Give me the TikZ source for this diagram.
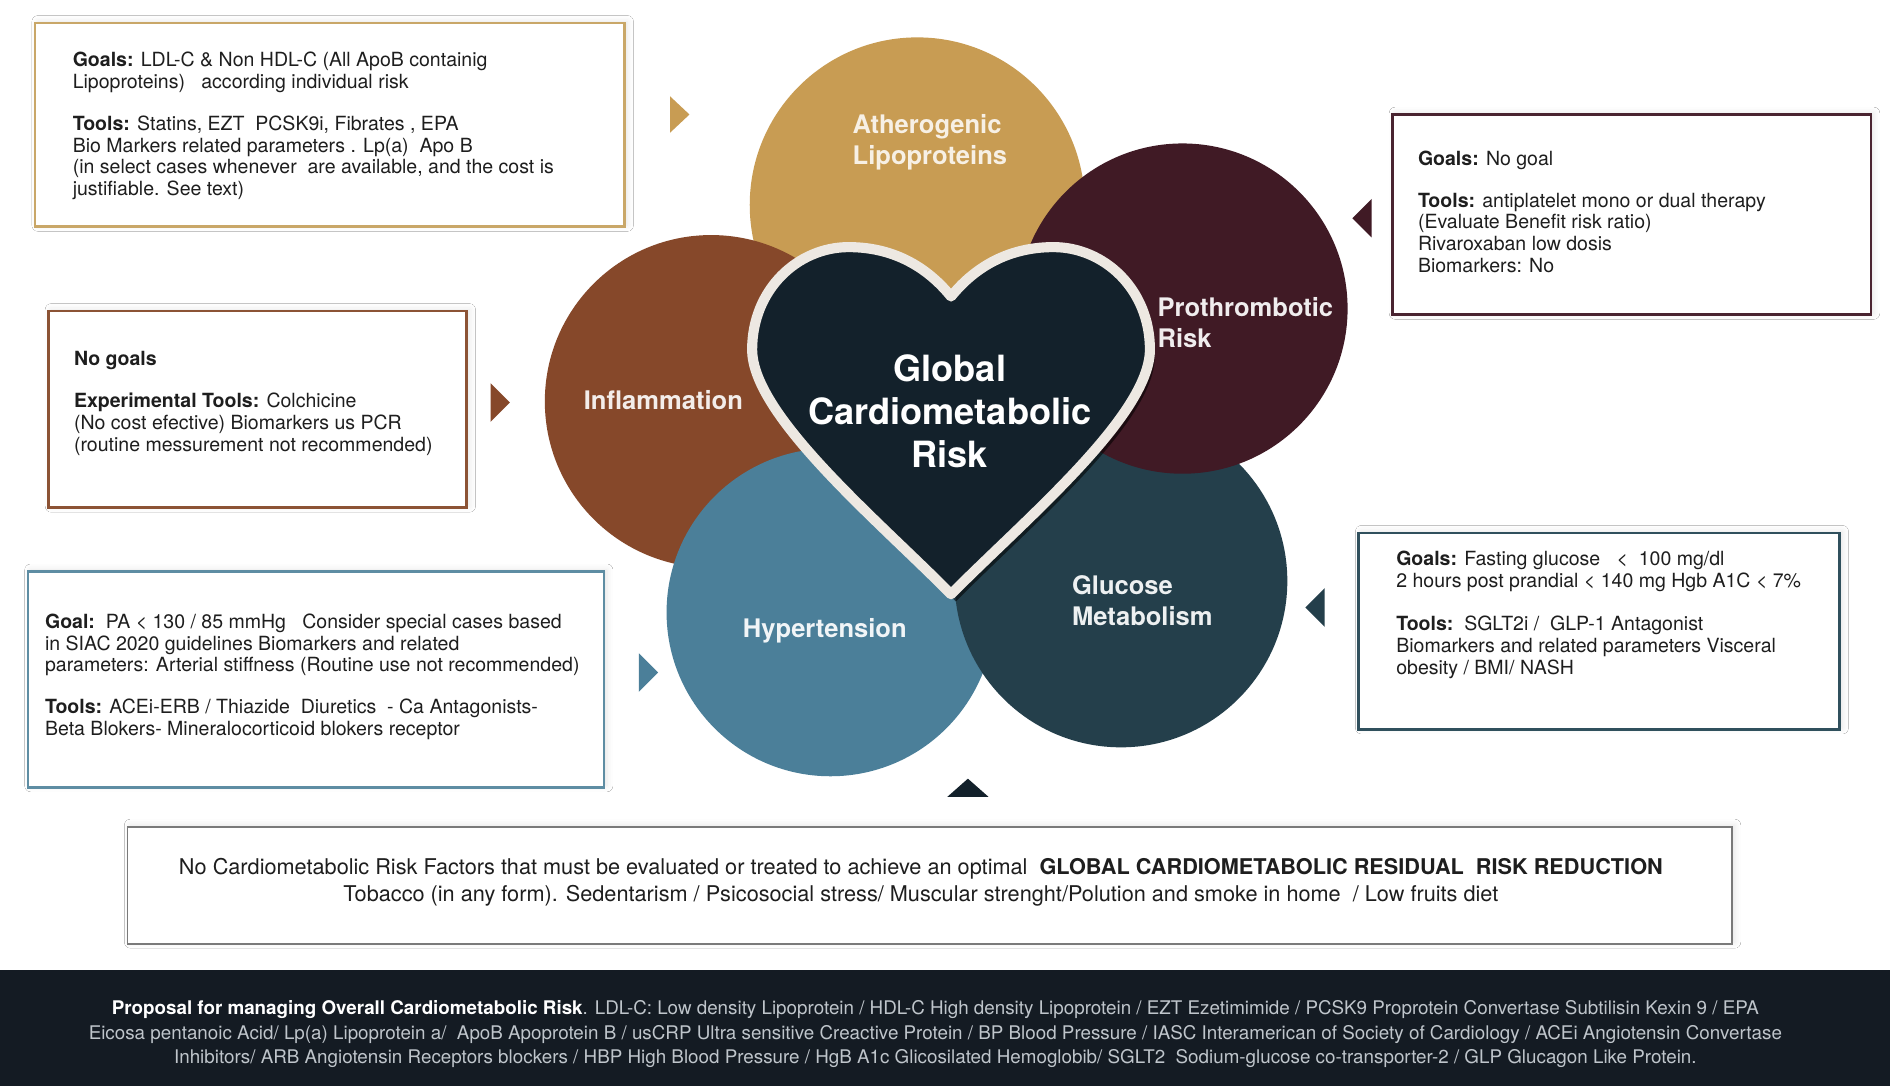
\documentclass[tikz,border=0pt]{standalone}
\usepackage{fontspec}
\setmainfont{TeX Gyre Heros}
\usetikzlibrary{shadows.blur}
\definecolor{cGold}{HTML}{C89C53}
\definecolor{cGoldB}{HTML}{C9A768}
\definecolor{cMaroon}{HTML}{401A25}
\definecolor{cMaroonB}{HTML}{4A2431}
\definecolor{cBrown}{HTML}{86482A}
\definecolor{cBrownB}{HTML}{8C5335}
\definecolor{cBlue}{HTML}{4B7F99}
\definecolor{cBlueB}{HTML}{5E8DA3}
\definecolor{cTeal}{HTML}{243F4B}
\definecolor{cTealB}{HTML}{30505D}
\definecolor{cHeart}{HTML}{13212B}
\definecolor{cHeartB}{HTML}{EDE8E2}
\definecolor{cFoot}{HTML}{141B23}
\definecolor{cFootTxt}{HTML}{BFC5CB}
\definecolor{cTxt}{HTML}{1E1E1E}
\definecolor{cGray}{HTML}{7A7A7A}
\begin{document}
\begin{tikzpicture}[x=0.5pt,y=-0.5pt,
  infobox/.style={draw=#1, line width=1.1pt, fill=white, anchor=north west, inner sep=0pt,
    blur shadow={shadow xshift=1.2pt, shadow yshift=0.6pt, shadow opacity=10, shadow blur radius=2.5pt}},
  infotxt/.style={anchor=west, align=left, inner sep=0pt, text=cTxt, font=\fontsize{8.1}{9}\selectfont},
  riskcirc/.style={circle, fill=#1, inner sep=0pt},
  circlabel/.style={anchor=west, align=left, inner sep=0pt, font=\fontsize{10.6}{13}\selectfont\bfseries},
  pointer/.style={fill=#1}
]
\useasboundingbox (0,0) rectangle (1568,901);
\fill[white] (0,0) rectangle (1568,901);

% ---- circles ----
\node[riskcirc=cGold, minimum size=139pt] (ather) at (761,170) {};
\node[riskcirc=cBrown, minimum size=138pt] (infl) at (590,333) {};
\node[riskcirc=cBlue, minimum size=136pt] (hyp) at (689,508) {};
\node[riskcirc=cTeal, minimum size=138pt] (gluc) at (930,482) {};
\node[riskcirc=cMaroon, minimum size=137pt] (proth) at (981,256) {};

% ---- heart ----
\fill[black, opacity=0.55] ([shift={(4,6)}]789,493) .. controls ([shift={(4,6)}]730,433) and ([shift={(4,6)}]624,345) .. ([shift={(4,6)}]624,290)
  .. controls ([shift={(4,6)}]624,240) and ([shift={(4,6)}]662,205) .. ([shift={(4,6)}]704,205)
  .. controls ([shift={(4,6)}]745,205) and ([shift={(4,6)}]772,225) .. ([shift={(4,6)}]789,246)
  .. controls ([shift={(4,6)}]806,225) and ([shift={(4,6)}]833,205) .. ([shift={(4,6)}]874,205)
  .. controls ([shift={(4,6)}]916,205) and ([shift={(4,6)}]954,240) .. ([shift={(4,6)}]954,290)
  .. controls ([shift={(4,6)}]954,345) and ([shift={(4,6)}]848,433) .. ([shift={(4,6)}]789,493) -- cycle;
\filldraw[fill=cHeart, draw=cHeartB, line width=4.2pt, line join=round]
  (789,493) .. controls (730,433) and (624,345) .. (624,290)
  .. controls (624,240) and (662,205) .. (704,205)
  .. controls (745,205) and (772,225) .. (789,246)
  .. controls (806,225) and (833,205) .. (874,205)
  .. controls (916,205) and (954,240) .. (954,290)
  .. controls (954,345) and (848,433) .. (789,493) -- cycle;
\node[align=center, inner sep=0pt, text=white, font=\fontsize{15}{17.75}\selectfont\bfseries] (heart) at (788,341)
  {Global\\Cardiometabolic\\Risk};

% ---- circle labels ----
\node[circlabel, text={cGold!15!white}] (lather) at (707,118) {Atherogenic\\Lipoproteins};
\node[circlabel, text={cMaroon!8!white}] (lproth) at (960,267.5) {Prothrombotic\\Risk};
\node[circlabel, text={cBrown!10!white}] (linfl) at (484,332) {Inflammation};
\node[circlabel, text={cBlue!8!white}] (lhyp) at (616,523) {Hypertension};
\node[circlabel, text={cTeal!8!white}] (lgluc) at (889,498.5) {Glucose\\Metabolism};

% ---- pointers ----
\fill[pointer=cGold] (556,80) -- (556,110) -- (572,95) -- cycle;
\fill[pointer=cMaroon] (1138,165) -- (1138,197) -- (1122,181) -- cycle;
\fill[pointer=cBrown] (407,318) -- (407,350) -- (423,334) -- cycle;
\fill[pointer=cBlue] (530,542) -- (530,574) -- (546,558) -- cycle;
\fill[pointer=cTeal] (1099,488) -- (1099,520) -- (1083,504) -- cycle;
\fill[pointer=cHeart] (786,661) -- (820,661) -- (803,646) -- cycle;

% ---- info boxes ----
\node[infobox=cGoldB, minimum width=244.5pt, minimum height=84.5pt] (b1) at (28,18) {};
\node[infotxt] (t1) at (60,104.5) {\textbf{Goals:} LDL-C \& Non HDL-C (All ApoB containig\\
Lipoproteins)\ \ \ according individual risk\\[8.5pt]
\textbf{Tools:} Statins, EZT\ \ PCSK9i, Fibrates , EPA\\
Bio Markers related parameters . Lp(a)\ \ Apo B\\
(in select cases whenever\ \ are available, and the cost is\\
justifiable. See text)};

\node[infobox=cMaroonB, minimum width=198.5pt, minimum height=83pt] (b2) at (1154,94) {};
\node[infotxt] (t2) at (1176,175.5) {\textbf{Goals:} No goal\\[8.5pt]
\textbf{Tools:} antiplatelet mono or dual therapy\\
(Evaluate Benefit risk ratio)\\
Rivaroxaban low dosis\\
Biomarkers: No};

\node[infobox=cBrownB, minimum width=173.5pt, minimum height=81.5pt] (b3) at (39,257) {};
\node[infotxt] (t3) at (61,334.5) {\textbf{No goals}\\[8.5pt]
\textbf{Experimental Tools:} Colchicine\\
(No cost efective) Biomarkers us PCR\\
(routine messurement not recommended)};

\node[infobox=cBlueB, minimum width=239pt, minimum height=89.5pt] (b4) at (22,473) {};
\node[infotxt] (t4) at (37,561.5) {\textbf{Goal:}\ \ PA < 130 / 85 mmHg\ \ \ Consider special cases based\\
in SIAC 2020 guidelines Biomarkers and related\\
parameters: Arterial stiffness (Routine use not recommended)\\[8.5pt]
\textbf{Tools:} ACEi-ERB / Thiazide\ \ Diuretics\ \ - Ca Antagonists-\\
Beta Blokers- Mineralocorticoid blokers receptor};

\node[infobox=cTealB, minimum width=199.5pt, minimum height=81.5pt] (b5) at (1126,441) {};
\node[infotxt] (t5) at (1158,510) {\textbf{Goals:} Fasting glucose\ \ \ <\ \ 100 mg/dl\\
2 hours post prandial < 140 mg Hgb A1C < 7\%\\[9pt]
\textbf{Tools:}\ \ SGLT2i /\ \ GLP-1 Antagonist\\
Biomarkers and related parameters Visceral\\
obesity / BMI/ NASH};

% ---- bottom box ----
\node[infobox=cGray, line width=0.8pt, minimum width=665.5pt, minimum height=48.5pt] (b6) at (105,685) {};
\node[align=center, inner sep=0pt, text=cTxt, font=\fontsize{9}{11}\selectfont] (t6) at (764,732)
{No Cardiometabolic Risk Factors that must be evaluated or treated to achieve an optimal\ \ \textbf{GLOBAL CARDIOMETABOLIC RESIDUAL\ \ RISK REDUCTION}\\
Tobacco (in any form). Sedentarism / Psicosocial stress/ Muscular strenght/Polution and smoke in home\ \ / Low fruits diet};

% ---- footer ----
\fill[cFoot] (0,805) rectangle (1568,901);
\node[align=center, inner sep=0pt, text=cFootTxt, font=\fontsize{7.8}{10.25}\selectfont] (foot) at (776,858)
{\textcolor{white}{\textbf{Proposal for managing Overall Cardiometabolic Risk}}. LDL-C: Low density Lipoprotein / HDL-C High density Lipoprotein / EZT Ezetimimide / PCSK9 Proprotein Convertase Subtilisin Kexin 9 / EPA\\
Eicosa pentanoic Acid/ Lp(a) Lipoprotein a/\ \ ApoB Apoprotein B / usCRP Ultra sensitive Creactive Protein / BP Blood Pressure / IASC Interamerican of Society of Cardiology / ACEi Angiotensin Convertase\\
Inhibitors/ ARB Angiotensin Receptors blockers / HBP High Blood Pressure / HgB A1c Glicosilated Hemoglobib/ SGLT2\ \ Sodium-glucose co-transporter-2 / GLP Glucagon Like Protein.};
\end{tikzpicture}
\end{document}
